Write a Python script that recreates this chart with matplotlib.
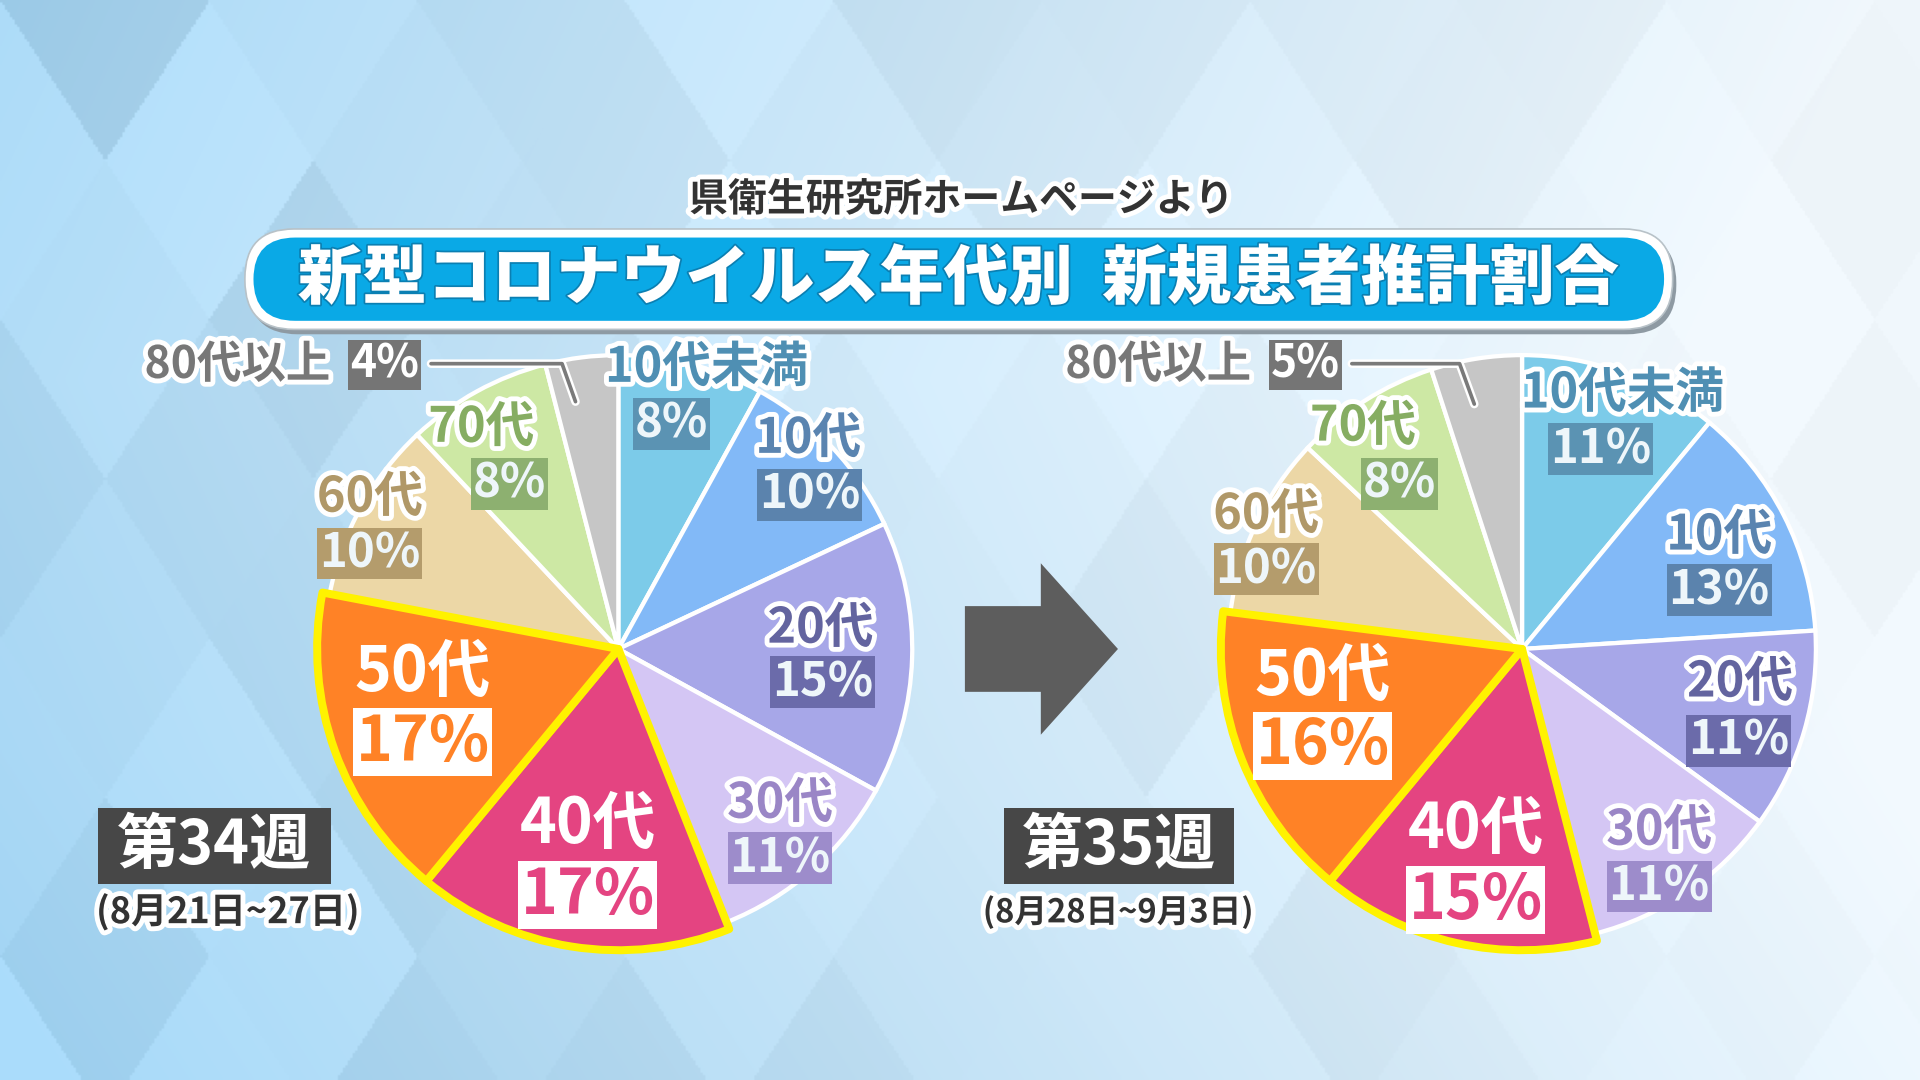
import numpy as np
import matplotlib
matplotlib.use('Agg')
import matplotlib.pyplot as plt
from matplotlib import patheffects as pe
from matplotlib.patches import FancyBboxPatch, Polygon, Rectangle

plt.rcParams['font.family'] = ['Noto Sans CJK JP', 'DejaVu Sans']

# ---------------- data ----------------
categories = ['10代未満', '10代', '20代', '30代', '40代', '50代', '60代', '70代', '80代以上']
week34 = [8, 10, 15, 11, 17, 17, 10, 8, 4]
week35 = [11, 13, 11, 11, 15, 16, 10, 8, 5]
week_titles = ['第34週', '第35週']
week_dates = ['(8月21日~27日)', '(8月28日~9月3日)']
title = '新型コロナウイルス年代別  新規患者推計割合'
source = '県衛生研究所ホームページより'
highlight = ['40代', '50代']

# ---------------- styles ----------------
slice_colors = ['#7ccbe9', '#82b9f7', '#a7a7e8', '#d4c6f4', '#e44481',
                '#ff8226', '#ecd7a6', '#cde8a4', '#c6c6c6']
name_colors = ['#4f8fb3', '#5a84b0', '#63649f', '#9a86c6', '#ffffff',
               '#ffffff', '#b09868', '#86ad62', '#777777']
box_colors = ['#5b93b3', '#5b83ad', '#6b6baa', '#9d8ccb', '#ffffff',
              '#ffffff', '#b49c6c', '#8db070', '#757575']

W, H = 1568, 882          # layout units (scaled to 1920x1080)
PT = 1920 / W / 100 * 72  # points per layout unit
R = 240

# label layout (x, y from top) per pie
layout = [
    dict(center=(505, 530),
         names=[(577, 300), (660, 358), (670, 513), (637, 656), (480, 673),
                (345, 549), (302, 406), (393, 349), None],
         pcts=[(548, 346), (661, 404), (672, 557), (637, 701), (480, 731),
               (345, 606), (302, 452), (416, 395), None],
         p80=(270, 298), leader=[(352, 297), (459, 297), (470, 328)],
         week=(80, 660, 190, 62), date=(186, 745), date_fs=26),
    dict(center=(1243, 530),
         names=[(1325, 321), (1404, 437), (1421, 557), (1355, 678), (1205, 677),
                (1080, 552), (1034, 420), (1113, 348), None],
         pcts=[(1307, 367), (1404, 482), (1420, 605), (1355, 724), (1205, 735),
               (1080, 609), (1034, 465), (1143, 395), None],
         p80=(1022, 298), leader=[(1104, 297), (1192, 297), (1204, 330)],
         week=(820, 660, 188, 62), date=(913, 745), date_fs=23.5),
]

fig = plt.figure(figsize=(19.2, 10.8), dpi=100)

# ---------------- background ----------------
bg = fig.add_axes([0, 0, 1, 1])
bg.axis('off')
ny, nx = 441, 784
yy, xx = np.mgrid[0:ny, 0:nx]
X = xx * (W / nx)
Y = yy * (H / ny)
xn = X / W
yn = Y / H
t = np.clip(0.05 + 0.95 * xn + 0.25 * (0.45 - np.abs(yn - 0.35)) - 0.1 * np.clip(yn - 0.7, 0, 1), 0, 1)
left = np.array([160, 210, 241]) / 255
right = np.array([240, 247, 252]) / 255
img = left[None, None, :] * (1 - t[..., None]) + right[None, None, :] * t[..., None]
u = X / 170 + Y / 260
v = X / 170 - Y / 260
i = np.floor(u)
j = np.floor(v)
h = np.sin(i * 12.9898 + j * 78.233) * 43758.5453
h = h - np.floor(h)
img = img + ((h - 0.5) * 0.09 * (1 - 0.7 * t))[..., None]
img = np.clip(img, 0, 1)
bg.imshow(img, extent=[0, W, 0, H], aspect='auto', origin='upper')
bg.set_xlim(0, W)
bg.set_ylim(0, H)

# ---------------- overlay ----------------
ax = fig.add_axes([0, 0, 1, 1])
ax.patch.set_alpha(0)

white_stroke = [pe.withStroke(linewidth=8 * PT, foreground='white')]


def draw_pie(vals, lay):
    cx, cy = lay['center']
    wedges, _ = ax.pie(vals, colors=slice_colors, startangle=90, counterclock=False,
                       center=(cx, H - cy), radius=R, frame=True,
                       wedgeprops=dict(edgecolor='white', linewidth=3.5 * PT))
    for w, c in zip(wedges, categories):
        w.set_zorder(2)
        if c in highlight:
            w.set_radius(R + 6)
            w.set_edgecolor('#fff200')
            w.set_linewidth(6.5 * PT)
            w.set_joinstyle('round')
            w.set_zorder(3)
    for k, (c, val) in enumerate(zip(categories, vals)):
        if lay['names'][k] is None:
            continue
        nx_, ny_ = lay['names'][k]
        px, py = lay['pcts'][k]
        big = c in highlight
        fs_n = 45 if big else 35
        fs_p = 45 if big else 34
        ax.text(nx_, H - ny_, c, ha='center', va='center', fontsize=fs_n,
                fontweight='bold', color=name_colors[k], zorder=5,
                path_effects=None if big else white_stroke)
        pct_col = slice_colors[k] if big else '#eef6fa'
        ax.text(px, H - py, f'{val}%', ha='center', va='center', fontsize=fs_p,
                fontweight='bold', color=pct_col, zorder=5,
                bbox=dict(boxstyle='square,pad=0.04', fc=box_colors[k], ec='none'))
    # 80代以上 label with leader line
    k = len(categories) - 1
    lx, ly = lay['p80']
    ax.text(lx, H - ly, categories[k], ha='right', va='center', fontsize=32,
            fontweight='bold', color=name_colors[k], zorder=5, path_effects=white_stroke)
    ax.text(lx + 16, H - ly, f'{vals[k]}%', ha='left', va='center', fontsize=32,
            fontweight='bold', color='white', zorder=5,
            bbox=dict(boxstyle='square,pad=0.04', fc=box_colors[k], ec='none'))
    lxs = [p[0] for p in lay['leader']]
    lys = [H - p[1] for p in lay['leader']]
    ax.plot(lxs, lys, color='#7a7a7a', lw=3 * PT, zorder=4, solid_capstyle='round',
            solid_joinstyle='round',
            path_effects=[pe.Stroke(linewidth=7 * PT, foreground='white'), pe.Normal()])


for vals, lay, wt, wd in zip([week34, week35], layout, week_titles, week_dates):
    draw_pie(vals, lay)
    bx, by, bw, bh = lay['week']
    ax.add_patch(Rectangle((bx, H - by - bh), bw, bh, fc='#474747', ec='none', zorder=6))
    ax.text(bx + bw / 2, H - by - bh / 2, wt, ha='center', va='center', fontsize=44,
            fontweight='bold', color='white', zorder=7)
    dx, dy = lay['date']
    ax.text(dx, H - dy, wd, ha='center', va='center', fontsize=lay['date_fs'], fontweight='bold',
            color='#333333', zorder=6, path_effects=white_stroke)

# arrow between pies
arrow = Polygon([(788, H - 495), (850, H - 495), (850, H - 460), (913, H - 530),
                 (850, H - 600), (850, H - 565), (788, H - 565)],
                closed=True, fc='#5d5d5d', ec='none', zorder=4)
ax.add_patch(arrow)

# title banner
shadow = FancyBboxPatch((203, H - 273), 1166, 82, boxstyle='round,pad=0,rounding_size=40',
                        fc='#8e9aa3', ec='none', zorder=6)
ax.add_patch(shadow)
outer = FancyBboxPatch((200, H - 269), 1166, 82, boxstyle='round,pad=0,rounding_size=40',
                       fc='white', ec='#b8c2c8', lw=1.2, zorder=7)
ax.add_patch(outer)
inner = FancyBboxPatch((207, H - 262), 1152, 68, boxstyle='round,pad=0,rounding_size=34',
                       fc='#0aa9e6', ec='none', zorder=8)
ax.add_patch(inner)
ax.text(783, H - 228, title, ha='center', va='center', fontsize=46.5, fontweight='heavy',
        color='white', zorder=9,
        path_effects=[pe.withStroke(linewidth=2.5, foreground='#0b7fb2')])
ax.text(785, H - 163, source, ha='center', va='center', fontsize=28, fontweight='bold',
        color='#333333', zorder=9, path_effects=white_stroke)

ax.set_xlim(0, W)
ax.set_ylim(0, H)
ax.set_aspect('auto')
ax.axis('off')

fig.savefig('out.png', dpi=100)
